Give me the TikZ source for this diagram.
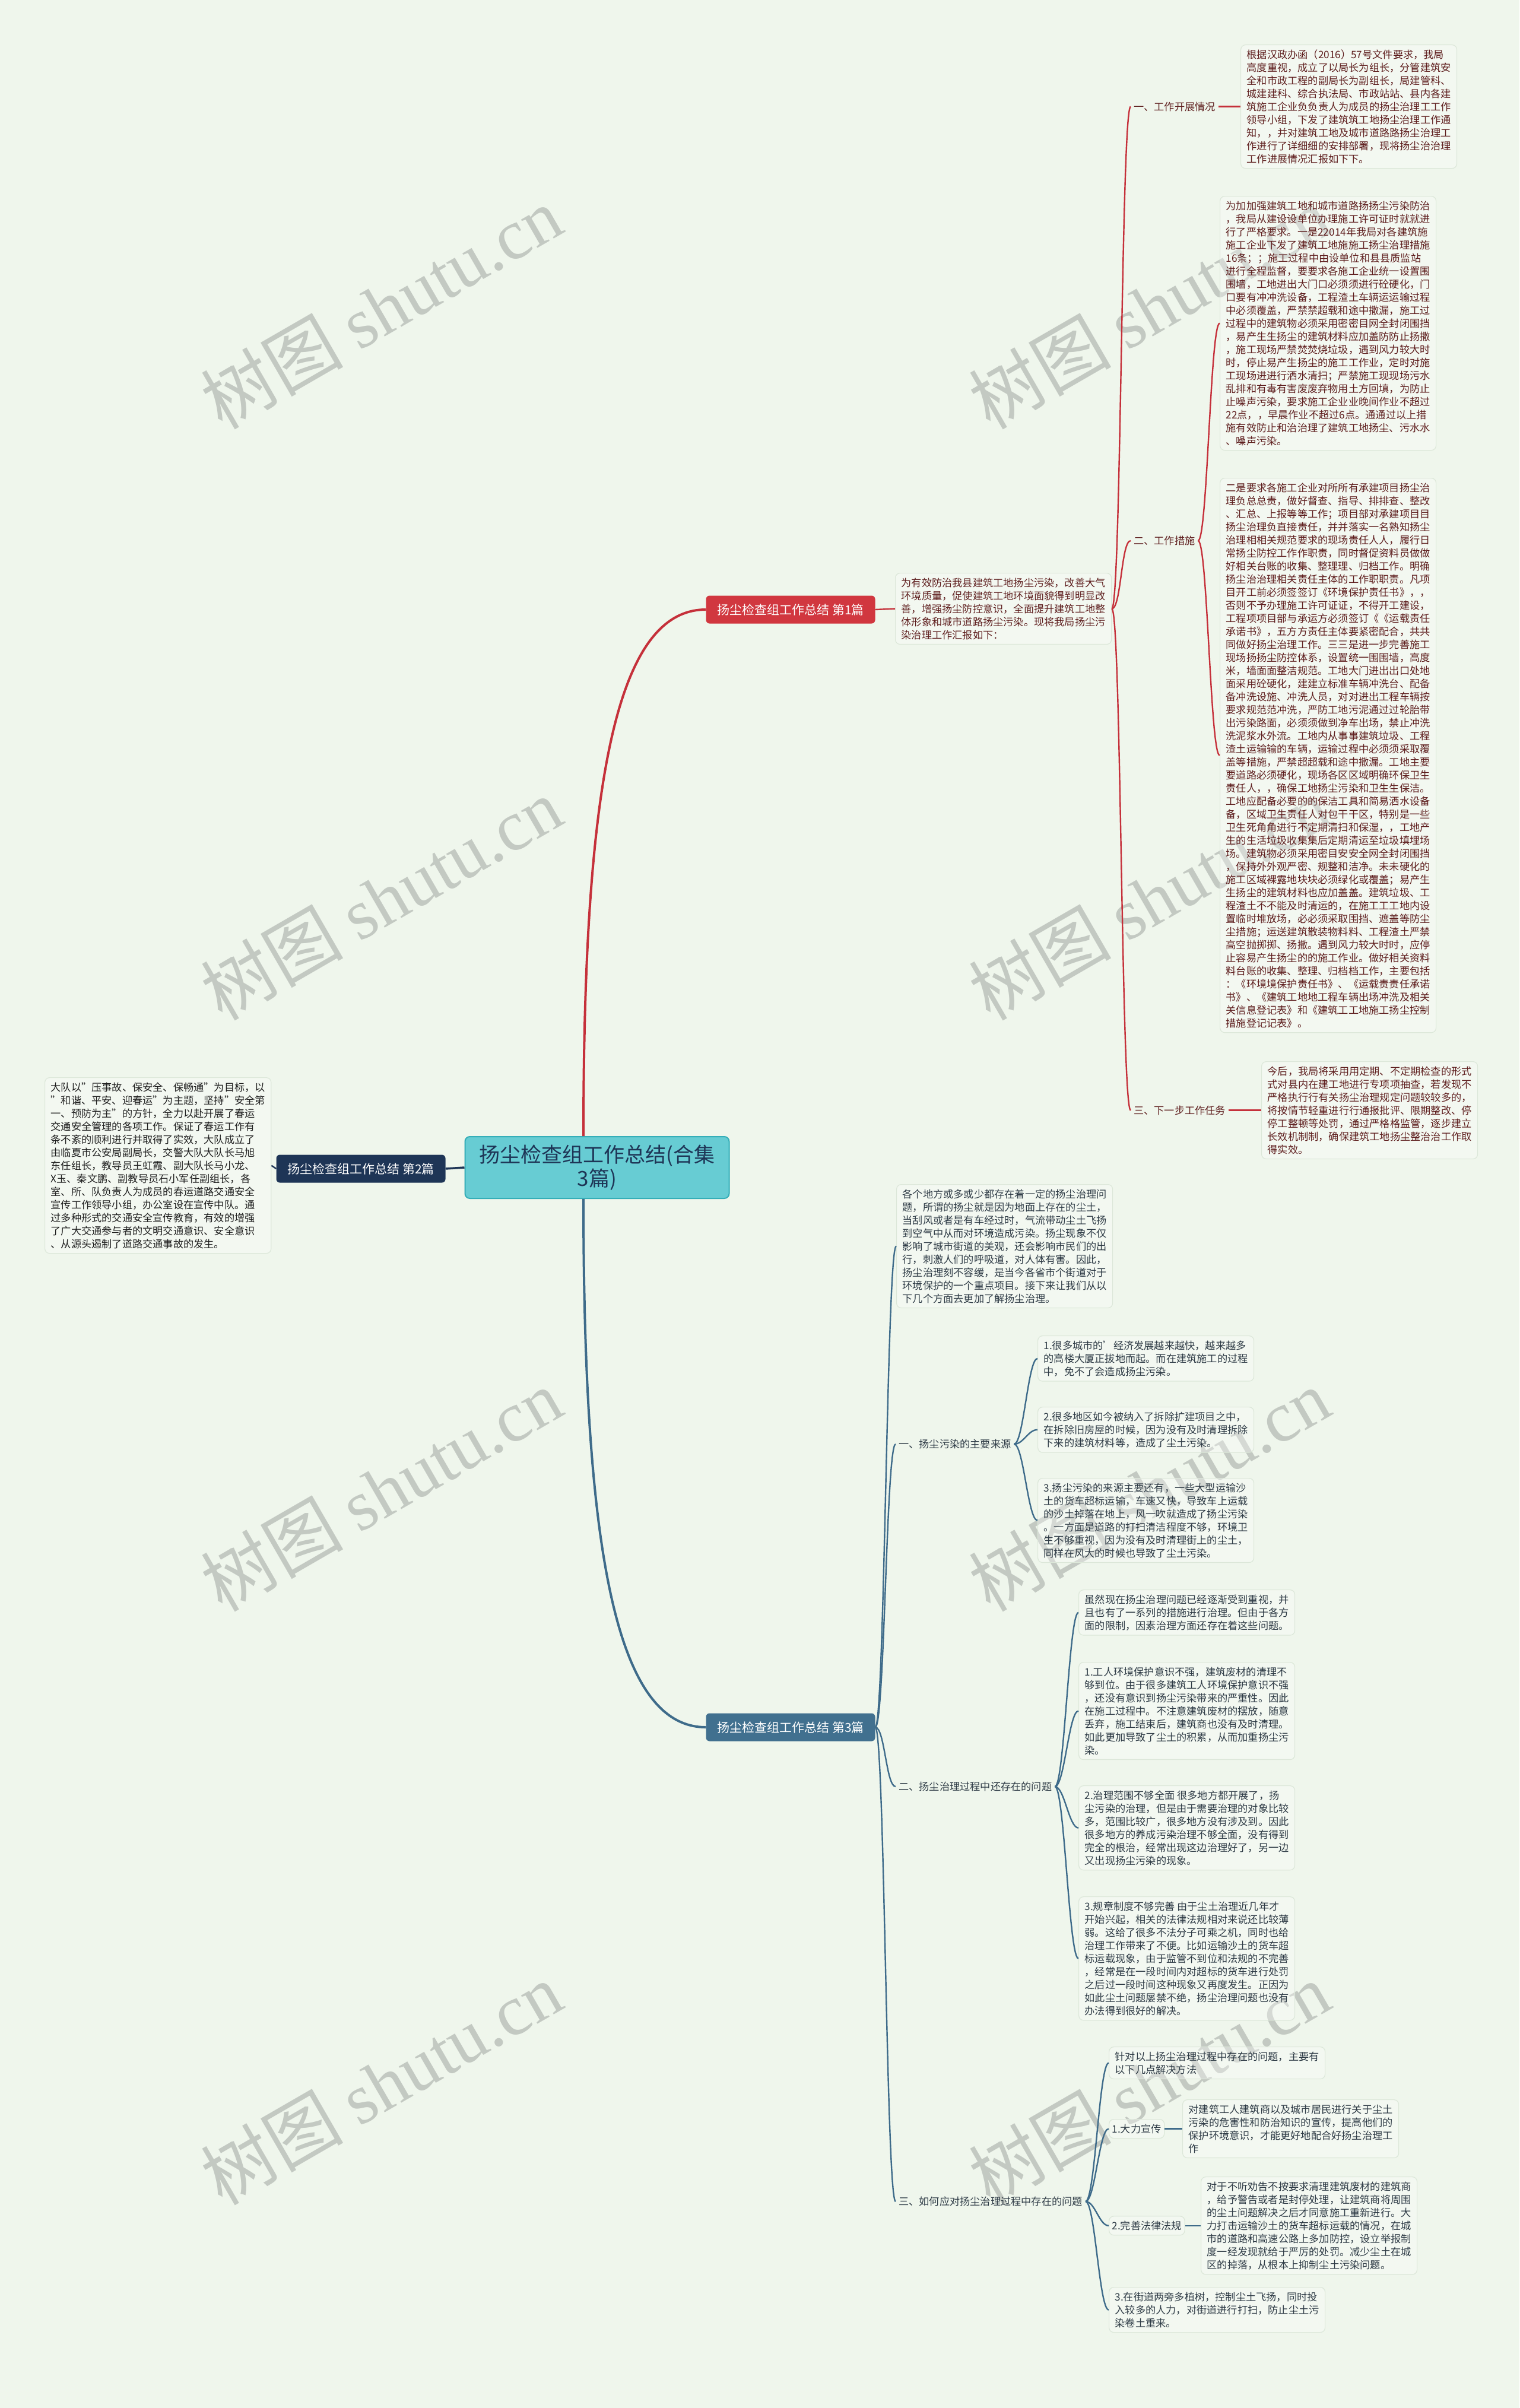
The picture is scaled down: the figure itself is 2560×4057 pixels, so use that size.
\documentclass[tikz,border=0pt]{standalone}
\usepackage{fontspec}
\setmainfont{Noto Sans CJK SC}
\newfontfamily\wmlatin{Liberation Serif}
\usetikzlibrary{calc}
\definecolor{bgc}{HTML}{EFF6EC}
\definecolor{boxborder}{HTML}{DCE7D9}
\definecolor{redc}{HTML}{D1373F}
\definecolor{redl}{HTML}{C5303A}
\definecolor{redtext}{HTML}{5E1E1E}
\definecolor{navy}{HTML}{1E3556}
\definecolor{bluen}{HTML}{41708F}
\definecolor{bluel}{HTML}{3E6B8A}
\definecolor{bluetext}{HTML}{2D3A45}
\definecolor{ctrfill}{HTML}{67CCD3}
\definecolor{ctrdraw}{HTML}{35AEB8}
\definecolor{wmc}{HTML}{C3C9C2}
\begin{document}
\begin{tikzpicture}[x=1pt,y=-1pt,
  tb/.style={draw=boxborder, line width=1.2pt, fill=white, fill opacity=0.3, text opacity=1,
    rounded corners=8pt, align=left, inner xsep=10pt, inner ysep=8pt,
    font=\fontsize{17.2}{22}\selectfont, anchor=north west},
  lb/.style={inner xsep=5pt, inner ysep=4pt, font=\fontsize{17.2}{22}\selectfont, anchor=west},
  lbb/.style={lb, draw=boxborder, line width=1.2pt, fill=white, fill opacity=0.3, text opacity=1, rounded corners=8pt, inner ysep=8pt},
  mnode/.style={rounded corners=6pt, minimum height=47pt, minimum width=285pt, inner xsep=14pt,
    text=white, font=\fontsize{21}{25}\selectfont},
  wm/.style={text=wmc, rotate=30, font=\fontsize{120}{130}\selectfont},
  rl/.style={draw=redl, line width=2.4pt},
  bl/.style={draw=bluel, line width=2.4pt},
  nl/.style={draw=navy, line width=3.5pt},
  cv/.style={out=0, in=180, distance=16pt}
]
\fill[bgc] (0,0) rectangle (2560,4057);
\useasboundingbox (0,0) rectangle (2560,4057);

% watermarks
\node[wm] (w1) at (642,518) {树图 {\wmlatin shutu.cn}};
\node[wm] (w2) at (1936,518) {树图 {\wmlatin shutu.cn}};
\node[wm] (w3) at (642,1514) {树图 {\wmlatin shutu.cn}};
\node[wm] (w4) at (1936,1514) {树图 {\wmlatin shutu.cn}};
\node[wm] (w5) at (642,2510) {树图 {\wmlatin shutu.cn}};
\node[wm] (w6) at (1936,2510) {树图 {\wmlatin shutu.cn}};
\node[wm] (w7) at (642,3510) {树图 {\wmlatin shutu.cn}};
\node[wm] (w8) at (1936,3510) {树图 {\wmlatin shutu.cn}};

% central and main nodes
\node[draw=ctrdraw, fill=ctrfill, line width=2pt, rounded corners=8pt, minimum width=445pt, minimum height=104pt,
  align=center, text=navy, font=\fontsize{35}{40}\selectfont] (ctr) at (1006,1967) {扬尘检查组工作总结(合集\\3篇)};
\node[mnode, fill=redc] (n1) at (1332,1027) {扬尘检查组工作总结 第1篇};
\node[mnode, fill=navy] (n2) at (608,1969) {扬尘检查组工作总结 第2篇};
\node[mnode, fill=bluen] (n3) at (1332,2910) {扬尘检查组工作总结 第3篇};

% ---------- branch 1 ----------
\node[tb, text=redtext] (p1) at (1508,965) {为有效防治我县建筑工地扬尘污染，改善大气\\环境质量，促使建筑工地环境面貌得到明显改\\善，增强扬尘防控意识，全面提升建筑工地整\\体形象和城市道路扬尘污染。现将我局扬尘污\\染治理工作汇报如下：};

\node[tb, text=redtext] (a1) at (2090,75) {根据汉政办函（2016）57号文件要求，我局\\高度重视，成立了以局长为组长，分管建筑安\\全和市政工程的副局长为副组长，局建管科、\\城建建科、综合执法局、市政站站、县内各建\\筑施工企业负负责人为成员的扬尘治理工工作\\领导小组，下发了建筑筑工地扬尘治理工作通\\知，，并对建筑工地及城市道路路扬尘治理工\\作进行了详细细的安排部署，现将扬尘治治理\\工作进展情况汇报如下下。};

\node[tb, text=redtext] (a2) at (2055,330) {为加加强建筑工地和城市道路扬扬尘污染防治\\，我局从建设设单位办理施工许可证时就就进\\行了严格要求。一是22014年我局对各建筑施\\施工企业下发了建筑工地施施工扬尘治理措施\\16条；；施工过程中由设单位和县县质监站\\进行全程监督，要要求各施工企业统一设置围\\围墙，工地进出大门口必须须进行砼硬化，门\\口要有冲冲洗设备，工程渣土车辆运运输过程\\中必须覆盖，严禁禁超载和途中撒漏，施工过\\过程中的建筑物必须采用密密目网全封闭围挡\\，易产生生扬尘的建筑材料应加盖防防止扬撒\\，施工现场严禁焚焚烧垃圾，遇到风力较大时\\时，停止易产生扬尘的施工工作业，定时对施\\工现场进进行洒水清扫；严禁施工现现场污水\\乱排和有毒有害废废弃物用土方回填，为防止\\止噪声污染，要求施工企业业晚间作业不超过\\22点，，早晨作业不超过6点。通通过以上措\\施有效防止和治治理了建筑工地扬尘、污水水\\、噪声污染。};

\node[tb, text=redtext] (a3) at (2055,805) {二是要求各施工企业对所所有承建项目扬尘治\\理负总总责，做好督查、指导、排排查、整改\\、汇总、上报等等工作；项目部对承建项目目\\扬尘治理负直接责任，并并落实一名熟知扬尘\\治理相相关规范要求的现场责任人人，履行日\\常扬尘防控工作作职责，同时督促资料员做做\\好相关台账的收集、整理理、归档工作。明确\\扬尘治治理相关责任主体的工作职职责。凡项\\目开工前必须签签订《环境保护责任书》，，\\否则不予办理施工许可证证，不得开工建设，\\工程项项目部与承运方必须签订《《运载责任\\承诺书》，五方方责任主体要紧密配合，共共\\同做好扬尘治理工作。三三是进一步完善施工\\现场扬扬尘防控体系，设置统一围围墙，高度\\米，墙面面整洁规范。工地大门进出出口处地\\面采用砼硬化，建建立标准车辆冲洗台、配备\\备冲洗设施、冲洗人员，对对进出工程车辆按\\要求规范范冲洗，严防工地污泥通过过轮胎带\\出污染路面，必须须做到净车出场，禁止冲洗\\洗泥浆水外流。工地内从事事建筑垃圾、工程\\渣土运输输的车辆，运输过程中必须须采取覆\\盖等措施，严禁超超载和途中撒漏。工地主要\\要道路必须硬化，现场各区区域明确环保卫生\\责任人，，确保工地扬尘污染和卫生生保洁。\\工地应配备必要的的保洁工具和简易洒水设备\\备，区域卫生责任人对包干干区，特别是一些\\卫生死角角进行不定期清扫和保湿，，工地产\\生的生活垃圾收集集后定期清运至垃圾填埋场\\场。建筑物必须采用密目安安全网全封闭围挡\\，保持外外观严密、规整和洁净。未未硬化的\\施工区域裸露地块块必须绿化或覆盖；易产生\\生扬尘的建筑材料也应加盖盖。建筑垃圾、工\\程渣土不不能及时清运的，在施工工工地内设\\置临时堆放场，必必须采取围挡、遮盖等防尘\\尘措施；运送建筑散装物料料、工程渣土严禁\\高空抛掷掷、扬撒。遇到风力较大时时，应停\\止容易产生扬尘的的施工作业。做好相关资料\\料台账的收集、整理、归档档工作，主要包括\\：《环境境保护责任书》、《运载责责任承诺\\书》、《建筑工地地工程车辆出场冲洗及相关\\关信息登记表》和《建筑工工地施工扬尘控制\\措施登记记表》。};

\node[tb, text=redtext] (a4) at (2125,1788) {今后，我局将采用用定期、不定期检查的形式\\式对县内在建工地进行专项项抽查，若发现不\\严格执行行有关扬尘治理规定问题较较多的，\\将按情节轻重进行行通报批评、限期整改、停\\停工整顿等处罚，通过严格格监管，逐步建立\\长效机制制，确保建筑工地扬尘整治治工作取\\得实效。};

\node[lb, text=redtext] (l11) at (1905,0 |- a1.west) {一、工作开展情况};
\node[lb, text=redtext] (l12) at (1905,911) {二、工作措施};
\node[lb, text=redtext] (l13) at (1905,0 |- a4.west) {三、下一步工作任务};

\draw[rl, line width=4pt] ([xshift=-23pt]ctr.north) .. controls ([xshift=-23pt,yshift=600pt]ctr.north) and ([xshift=-150pt]n1.west) .. (n1.west);
\draw[rl] (n1.east) -- (p1.west);
\draw[rl] (p1.east) to[cv] (l11.west);
\draw[rl] (p1.east) to[cv] (l12.west);
\draw[rl] (p1.east) to[cv] (l13.west);
\draw[rl] (l11.east) -- (a1.west);
\draw[rl] (l12.east) to[cv] (a2.west);
\draw[rl] (l12.east) to[cv] (a3.west);
\draw[rl] (l13.east) -- (a4.west);

% ---------- branch 2 ----------
\node[tb, text=black!88] (b1) at (75,1815) {大队以"压事故、保安全、保畅通"为目标，以\\"和谐、平安、迎春运"为主题，坚持"安全第\\一、预防为主"的方针，全力以赴开展了春运\\交通安全管理的各项工作。保证了春运工作有\\条不紊的顺利进行并取得了实效，大队成立了\\由临夏市公安局副局长，交警大队大队长马旭\\东任组长，教导员王虹霞、副大队长马小龙、\\X玉、秦文鹏、副教导员石小军任副组长，各\\室、所、队负责人为成员的春运道路交通安全\\宣传工作领导小组，办公室设在宣传中队。通\\过多种形式的交通安全宣传教育，有效的增强\\了广大交通参与者的文明交通意识、安全意识\\、从源头遏制了道路交通事故的发生。};
\draw[nl] (ctr.west) -- (n2.east);
\draw[nl, line width=2.4pt] (n2.west) -- (b1.east);

% ---------- branch 3 ----------
\node[tb, text=bluetext] (c0) at (1510,1995) {各个地方或多或少都存在着一定的扬尘治理问\\题，所谓的扬尘就是因为地面上存在的尘土，\\当刮风或者是有车经过时，气流带动尘土飞扬\\到空气中从而对环境造成污染。扬尘现象不仅\\影响了城市街道的美观，还会影响市民们的出\\行，刺激人们的呼吸道，对人体有害。因此，\\扬尘治理刻不容缓，是当今各省市个街道对于\\环境保护的一个重点项目。接下来让我们从以\\下几个方面去更加了解扬尘治理。};

\node[lb, text=bluetext] (l31) at (1509,2433) {一、扬尘污染的主要来源};
\node[lb, text=bluetext] (l32) at (1509,3010) {二、扬尘治理过程中还存在的问题};
\node[lb, text=bluetext] (l33) at (1509,3709) {三、如何应对扬尘治理过程中存在的问题};

\node[tb, text=bluetext] (c11) at (1748,2250) {1.很多城市的'经济发展越来越快，越来越多\\的高楼大厦正拔地而起。而在建筑施工的过程\\中，免不了会造成扬尘污染。};
\node[tb, text=bluetext] (c12) at (1748,2370) {2.很多地区如今被纳入了拆除扩建项目之中，\\在拆除旧房屋的时候，因为没有及时清理拆除\\下来的建筑材料等，造成了尘土污染。};
\node[tb, text=bluetext] (c13) at (1748,2490) {3.扬尘污染的来源主要还有，一些大型运输沙\\土的货车超标运输，车速又快，导致车上运载\\的沙土掉落在地上，风一吹就造成了扬尘污染\\。一方面是道路的打扫清洁程度不够，环境卫\\生不够重视，因为没有及时清理街上的尘土，\\同样在风大的时候也导致了尘土污染。};

\node[tb, text=bluetext] (c20) at (1817,2678) {虽然现在扬尘治理问题已经逐渐受到重视，并\\且也有了一系列的措施进行治理。但由于各方\\面的限制，因素治理方面还存在着这些问题。};
\node[tb, text=bluetext] (c21) at (1817,2800) {1.工人环境保护意识不强，建筑废材的清理不\\够到位。由于很多建筑工人环境保护意识不强\\，还没有意识到扬尘污染带来的严重性。因此\\在施工过程中。不注意建筑废材的摆放，随意\\丢弃，施工结束后，建筑商也没有及时清理。\\如此更加导致了尘土的积累，从而加重扬尘污\\染。};
\node[tb, text=bluetext] (c22) at (1817,3008) {2.治理范围不够全面 很多地方都开展了，扬\\尘污染的治理，但是由于需要治理的对象比较\\多，范围比较广，很多地方没有涉及到。因此\\很多地方的养成污染治理不够全面，没有得到\\完全的根治，经常出现这边治理好了，另一边\\又出现扬尘污染的现象。};
\node[tb, text=bluetext] (c23) at (1817,3195) {3.规章制度不够完善 由于尘土治理近几年才\\开始兴起，相关的法律法规相对来说还比较薄\\弱。这给了很多不法分子可乘之机，同时也给\\治理工作带来了不便。比如运输沙土的货车超\\标运载现象，由于监管不到位和法规的不完善\\，经常是在一段时间内对超标的货车进行处罚\\之后过一段时间这种现象又再度发生。正因为\\如此尘土问题屡禁不绝，扬尘治理问题也没有\\办法得到很好的解决。};

\node[tb, text=bluetext] (c30) at (1868,3448) {针对以上扬尘治理过程中存在的问题，主要有\\以下几点解决方法};
\node[tb, text=bluetext] (c31) at (1992,3537) {对建筑工人建筑商以及城市居民进行关于尘土\\污染的危害性和防治知识的宣传，提高他们的\\保护环境意识，才能更好地配合好扬尘治理工\\作};
\node[tb, text=bluetext] (c32) at (2023,3667) {对于不听劝告不按要求清理建筑废材的建筑商\\，给予警告或者是封停处理，让建筑商将周围\\的尘土问题解决之后才同意施工重新进行。大\\力打击运输沙土的货车超标运载的情况，在城\\市的道路和高速公路上多加防控，设立举报制\\度一经发现就给于严厉的处罚。减少尘土在城\\区的掉落，从根本上抑制尘土污染问题。};
\node[tb, text=bluetext] (c33) at (1868,3853) {3.在街道两旁多植树，控制尘土飞扬，同时投\\入较多的人力，对街道进行打扫，防止尘土污\\染卷土重来。};
\node[lbb, text=bluetext] (c31l) at (1868,0 |- c31.west) {1.大力宣传};
\node[lbb, text=bluetext] (c32l) at (1868,0 |- c32.west) {2.完善法律法规};

\draw[bl, line width=4pt] ([xshift=-23pt]ctr.south) .. controls ([xshift=-23pt,yshift=-600pt]ctr.south) and ([xshift=-150pt]n3.west) .. (n3.west);
\draw[bl] (n3.east) to[cv] (c0.west);
\draw[bl] (n3.east) to[cv] (l31.west);
\draw[bl] (n3.east) to[cv] (l32.west);
\draw[bl] (n3.east) to[cv] (l33.west);
\draw[bl] (l31.east) to[cv] (c11.west);
\draw[bl] (l31.east) to[cv] (c12.west);
\draw[bl] (l31.east) to[cv] (c13.west);
\draw[bl] (l32.east) to[cv] (c20.west);
\draw[bl] (l32.east) to[cv] (c21.west);
\draw[bl] (l32.east) to[cv] (c22.west);
\draw[bl] (l32.east) to[cv] (c23.west);
\draw[bl] (l33.east) to[cv] (c30.west);
\draw[bl] (l33.east) to[cv] (c31l.west);
\draw[bl] (l33.east) to[cv] (c32l.west);
\draw[bl] (l33.east) to[cv] (c33.west);
\draw[bl] (c31l.east) -- (c31.west);
\draw[bl] (c32l.east) -- (c32.west);
\end{tikzpicture}
\end{document}
